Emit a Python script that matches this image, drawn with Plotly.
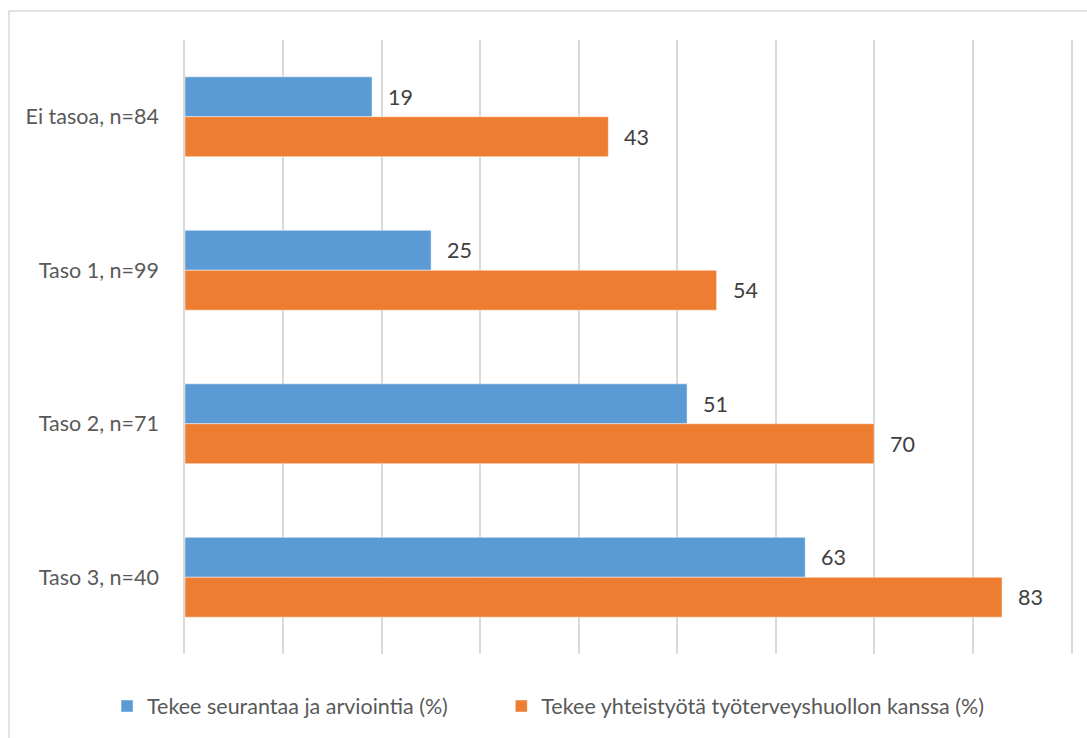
import plotly.graph_objects as go

# Survey groups (top to bottom) and the share (%) of each group per activity
categories = ["Ei tasoa, n=84", "Taso 1, n=99", "Taso 2, n=71", "Taso 3, n=40"]
seuranta = [19, 25, 51, 63]
yhteistyo = [43, 54, 70, 83]
series_names = [
    "Tekee seurantaa ja arviointia (%)",
    "Tekee yhteistyötä työterveyshuollon kanssa (%)",
]

BLUE = "#5B9BD5"
ORANGE = "#ED7D31"
GRID = "#D9D9D9"
FONT = "Lato"
FONT_SIZE = 21.5
TEXT_GREY = "#595959"
LABEL_DARK = "#404040"
BARGAP = 0.48

fig = go.Figure()
for name, vals, color, leg in [
    (series_names[0], seuranta, BLUE, "legend"),
    (series_names[1], yhteistyo, ORANGE, "legend2"),
]:
    fig.add_trace(
        go.Bar(
            y=categories,
            x=vals,
            name=name,
            orientation="h",
            legend=leg,
            marker=dict(color=color, line=dict(color="rgba(255,255,255,0.6)", width=0.8)),
            hoverinfo="x+y",
        )
    )

# value labels placed just right of each bar end, centred on each bar
bar_half = (1 - BARGAP) / 4
annotations = []
for vals, offset in [(seuranta, -bar_half), (yhteistyo, bar_half)]:
    for i, v in enumerate(vals):
        annotations.append(
            dict(
                x=v,
                y=i + offset,
                xref="x",
                yref="y",
                text=str(v),
                showarrow=False,
                xanchor="left",
                yanchor="middle",
                xshift=14,
                font=dict(family=FONT, size=FONT_SIZE, color=LABEL_DARK),
            )
        )

legend_style = dict(
    orientation="h",
    xanchor="left",
    y=-0.083,
    yanchor="middle",
    font=dict(family=FONT, size=FONT_SIZE, color=TEXT_GREY),
    itemclick=False,
    bgcolor="rgba(0,0,0,0)",
)

fig.update_layout(
    width=1087,
    height=738,
    margin=dict(l=185, r=16, t=40, b=83),
    paper_bgcolor="white",
    plot_bgcolor="white",
    barmode="group",
    bargap=BARGAP,
    bargroupgap=0,
    font=dict(family=FONT, size=FONT_SIZE, color=TEXT_GREY),
    showlegend=True,
    legend=dict(x=-0.088, **legend_style),
    legend2=dict(x=0.357, **legend_style),
    annotations=annotations,
    shapes=[
        # chart-area frame (runs off the right and bottom edges)
        dict(
            type="rect",
            xref="paper",
            yref="paper",
            x0=(9 - 185) / 886,
            x1=(1095 - 185) / 886,
            y0=(655 - 745) / 615,
            y1=(655 - 11) / 615,
            line=dict(color=GRID, width=1.5),
            fillcolor="rgba(0,0,0,0)",
            layer="below",
        )
    ],
)

fig.update_xaxes(
    range=[0, 90],
    dtick=10,
    tick0=0,
    showgrid=True,
    gridcolor=GRID,
    gridwidth=1.5,
    zeroline=False,
    showline=False,
    showticklabels=False,
    ticks="",
    fixedrange=True,
)
# vertical lines at 0 and 90 come from the y-axis line and its mirror
fig.update_yaxes(
    autorange="reversed",
    showgrid=False,
    zeroline=False,
    showline=True,
    mirror=True,
    linecolor=GRID,
    linewidth=1.5,
    ticks="",
    ticklabelstandoff=20,
    tickfont=dict(family=FONT, size=FONT_SIZE, color=TEXT_GREY),
    fixedrange=True,
)

fig.write_html("out.html")
